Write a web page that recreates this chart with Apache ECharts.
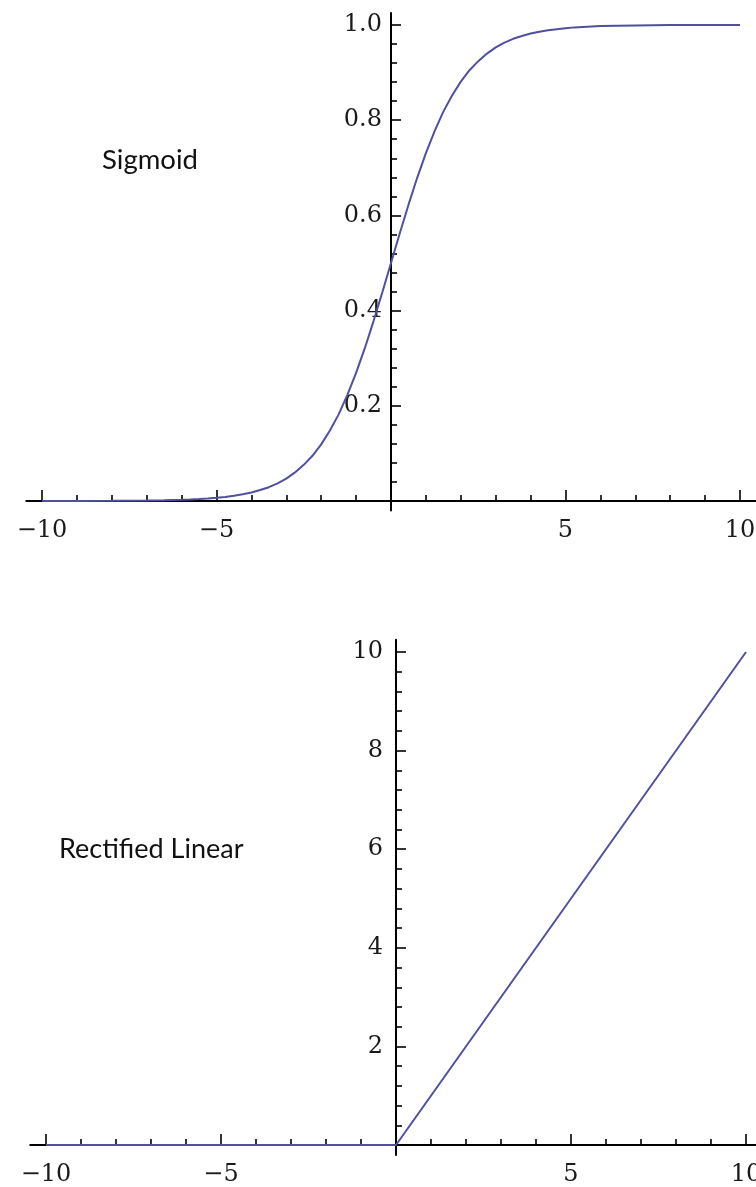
<!DOCTYPE html>
<html>
<head>
<meta charset="utf-8">
<script src="https://cdn.jsdelivr.net/npm/echarts@6/dist/echarts.min.js"></script>
<style>
  html, body { margin: 0; padding: 0; background: #fff; }
  #chart { width: 756px; height: 1187px; }
</style>
</head>
<body>
<div id="chart"></div>
<script>
// sigmoid curve
const sigX = [-10, -9, -8, -7, -6.5, -6, -5.75, -5.5, -5.25, -5, -4.75, -4.5, -4.25, -4, -3.75, -3.5, -3.25, -3, -2.75, -2.5, -2.25, -2, -1.75, -1.5, -1.25, -1, -0.75, -0.5, -0.25,
  0, 0.25, 0.5, 0.75, 1, 1.25, 1.5, 1.75, 2, 2.25, 2.5, 2.75, 3, 3.25, 3.5, 3.75, 4, 4.25, 4.5, 4.75, 5, 5.25, 5.5, 5.75, 6, 6.5, 7, 8, 9, 10]
const sigY = [0, 0.0001, 0.0003, 0.0009, 0.0015, 0.0025, 0.0032, 0.0041, 0.0052, 0.0067, 0.0086, 0.011, 0.014, 0.018, 0.023, 0.029, 0.037, 0.047, 0.06, 0.076, 0.095, 0.119, 0.148, 0.182, 0.223, 0.269, 0.321, 0.378, 0.438,
  0.5, 0.562, 0.622, 0.679, 0.731, 0.777, 0.818, 0.852, 0.881, 0.905, 0.924, 0.94, 0.953, 0.963, 0.971, 0.977, 0.982, 0.986, 0.989, 0.991, 0.993, 0.995, 0.996, 0.997, 0.998, 0.9985, 0.999, 1, 1, 1]

// rectified linear
const reluX = [-10, 0, 10]
const reluY = [0, 0, 10]

// ticks / labels
const xMajor = [-10, -5, 5, 10]
const xMinor = [-9, -8, -7, -6, -4, -3, -2, -1, 1, 2, 3, 4, 6, 7, 8, 9]
const sigYMajor = [0.2, 0.4, 0.6, 0.8, 1.0]
const sigYMinor = [0.04, 0.08, 0.12, 0.16, 0.24, 0.28, 0.32, 0.36, 0.44, 0.48, 0.52, 0.56, 0.64, 0.68, 0.72, 0.76, 0.84, 0.88, 0.92, 0.96]
const reluYMajor = [2, 4, 6, 8, 10]
const reluYMinor = [0.4, 0.8, 1.2, 1.6, 2.4, 2.8, 3.2, 3.6, 4.4, 4.8, 5.2, 5.6, 6.4, 6.8, 7.2, 7.6, 8.4, 8.8, 9.2, 9.6]

const titles = ['Sigmoid', 'Rectified Linear']

const lineColor = '#50509f'

const fmtX = v => (v < 0 ? '\u2212' + Math.abs(v) : String(v))
const fmtSig = v => v.toFixed(1)
const fmtRelu = v => String(v)

// visible value axis: major ones carry the line + labels, minor ones only short ticks
function axis (gridIndex, pos, min, max, ticks, len, labels, fmt, margin) {
  return {
    type: 'value',
    gridIndex: gridIndex,
    position: pos,
    min: min,
    max: max,
    axisLine: { show: !!labels, onZero: false, lineStyle: { color: '#000', width: 2 } },
    axisTick: { show: true, inside: true, length: len, customValues: ticks, lineStyle: { color: '#000', width: 1.6 } },
    axisLabel: {
      show: !!labels,
      customValues: labels || [],
      formatter: fmt,
      margin: margin,
      fontFamily: 'DejaVu Serif',
      fontSize: 24,
      color: '#1a1a1a'
    },
    splitLine: { show: false },
    minorTick: { show: false },
    minorSplitLine: { show: false }
  }
}
// axis the grid needs but nobody sees
function hidden (gridIndex, min, max) {
  return { type: 'value', gridIndex: gridIndex, min: min, max: max, show: false, splitLine: { show: false } }
}
function box (left, top, width, height) {
  return { left: left, top: top, width: width, height: height, outerBoundsMode: 'none', containLabel: false }
}

const chart = echarts.init(document.getElementById('chart'), null, { renderer: 'canvas' })

// top: x 0 at px 391, 34.9 px/unit; y 0 at px 501, 476 px/unit
// bottom: x 0 at px 396, 35 px/unit; y 0 at px 1145, 49.3 px/unit
const option = {
  animation: false,
  backgroundColor: '#fff',
  title: [
    { text: titles[0], left: 102, top: 146, padding: 0, textStyle: { fontFamily: 'Lato', fontWeight: 'normal', fontSize: 27.5, color: '#111' } },
    { text: titles[1], left: 59, top: 836, padding: 0, textStyle: { fontFamily: 'Lato', fontWeight: 'normal', fontSize: 27, color: '#111' } }
  ],
  grid: [
    box(26.3, 13.1, 729.4, 487.9), // 0 sigmoid x major + series
    box(26.3, 13.1, 729.4, 487.9), // 1 sigmoid x minor
    box(391, 13.1, 100, 497.4), // 2 sigmoid y major
    box(391, 13.1, 100, 497.4), // 3 sigmoid y minor
    box(30.25, 639.7, 731.5, 505.3), // 4 relu x major + series
    box(30.25, 639.7, 731.5, 505.3), // 5 relu x minor
    box(396, 639.7, 100, 515.2), // 6 relu y major
    box(396, 639.7, 100, 515.2) // 7 relu y minor
  ],
  xAxis: [
    axis(0, 'bottom', -10.45, 10.45, xMajor, 11, xMajor, fmtX, 18),
    axis(1, 'bottom', -10.45, 10.45, xMinor, 6, null, fmtX, 18),
    hidden(2, 0, 1),
    hidden(3, 0, 1),
    axis(4, 'bottom', -10.45, 10.45, xMajor, 11, xMajor, fmtX, 18),
    axis(5, 'bottom', -10.45, 10.45, xMinor, 6, null, fmtX, 18),
    hidden(6, 0, 1),
    hidden(7, 0, 1)
  ],
  yAxis: [
    hidden(0, 0, 1.025),
    hidden(1, 0, 1.025),
    axis(2, 'left', -0.02, 1.025, sigYMajor, 10, sigYMajor, fmtSig, 9),
    axis(3, 'left', -0.02, 1.025, sigYMinor, 6, null, fmtSig, 9),
    hidden(4, 0, 10.25),
    hidden(5, 0, 10.25),
    axis(6, 'left', -0.2, 10.25, reluYMajor, 10, reluYMajor, fmtRelu, 13),
    axis(7, 'left', -0.2, 10.25, reluYMinor, 6, null, fmtRelu, 13)
  ],
  series: [
    {
      name: titles[0],
      type: 'line',
      xAxisIndex: 0,
      yAxisIndex: 0,
      data: sigX.map((x, i) => [x, sigY[i]]),
      showSymbol: false,
      symbol: 'none',
      clip: false,
      lineStyle: { color: lineColor, width: 2 },
      z: 5
    },
    {
      name: titles[1],
      type: 'line',
      xAxisIndex: 4,
      yAxisIndex: 4,
      data: reluX.map((x, i) => [x, reluY[i]]),
      showSymbol: false,
      symbol: 'none',
      clip: false,
      lineStyle: { color: lineColor, width: 2 },
      z: 5
    }
  ]
}

chart.setOption(option)
</script>
</body>
</html>
